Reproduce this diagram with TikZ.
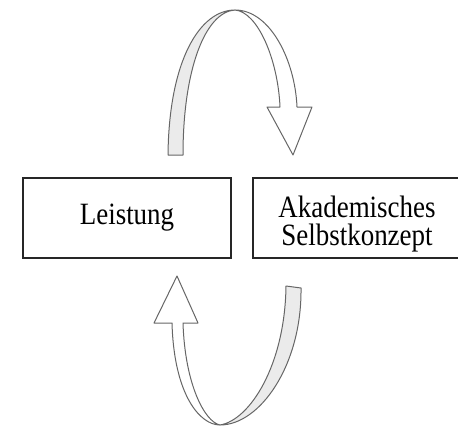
\documentclass[tikz,border=0pt]{standalone}
\usepackage{fontspec}
\setmainfont[FakeStretch=0.87]{Liberation Serif}
\usepackage{tikz}
\usetikzlibrary{calc}

\begin{document}
\begin{tikzpicture}[x=1pt, y=-1pt]

        % 1. Fix the drawing area (pixel units, y pointing down)
        \useasboundingbox (0,0) rectangle (458,428);

        \tikzset{box/.style={draw=black!85, line width=2pt, minimum width=208pt, minimum height=80pt, inner sep=0pt, align=center, font=\fontsize{31}{28}\selectfont}}
        \tikzset{ribbon/.style={draw=black!60, line width=1pt, line join=round}}

        % 2. The two boxes
        \node[box] (Leistung) at (127,218) {Leistung};
        \node[box] (Selbst) at (357,218) {\rule{0pt}{33pt}Akademisches\\Selbstkonzept};

        % 3. Upper arrow (Leistung -> Selbstkonzept)
        \coordinate (UpTailL) at (168,155); % outer edge of the tail
        \coordinate (UpTailR) at (183,155); % inner edge of the tail
        \coordinate (UpTop) at (235,10);    % twist at the top
        \coordinate (UpTip) at (293,155);   % arrow tip

        % back side of the ribbon (grey)
        \draw[ribbon, fill=black!8] (UpTailL) .. controls (169,60) and (200,10) .. (UpTop)
            .. controls (205,12) and (183,70) .. (UpTailR) -- cycle;
        % front side with the head
        \draw[ribbon, fill=white] (UpTop) .. controls (270,10) and (295,60) .. (297,107)
            -- (312,107) -- (UpTip) -- (267,107) -- (280,107)
            .. controls (278,60) and (258,12) .. (UpTop) -- cycle;

        % 4. Lower arrow (Selbstkonzept -> Leistung)
        \coordinate (LoTailR) at (301,288); % outer edge of the tail
        \coordinate (LoTailL) at (286,286); % inner edge of the tail
        \coordinate (LoBot) at (220,425);   % twist at the bottom
        \coordinate (LoTip) at (177,276);   % arrow tip

        % back side of the ribbon (grey)
        \draw[ribbon, fill=black!8] (LoTailR) .. controls (302,365) and (260,425) .. (LoBot)
            .. controls (250,420) and (285,365) .. (LoTailL) -- cycle;
        % front side with the head
        \draw[ribbon, fill=white] (LoBot) .. controls (200,425) and (174,395) .. (172,323)
            -- (154,323) -- (LoTip) -- (198,323) -- (183,323)
            .. controls (185,385) and (205,422) .. (LoBot) -- cycle;

\end{tikzpicture}
\end{document}
